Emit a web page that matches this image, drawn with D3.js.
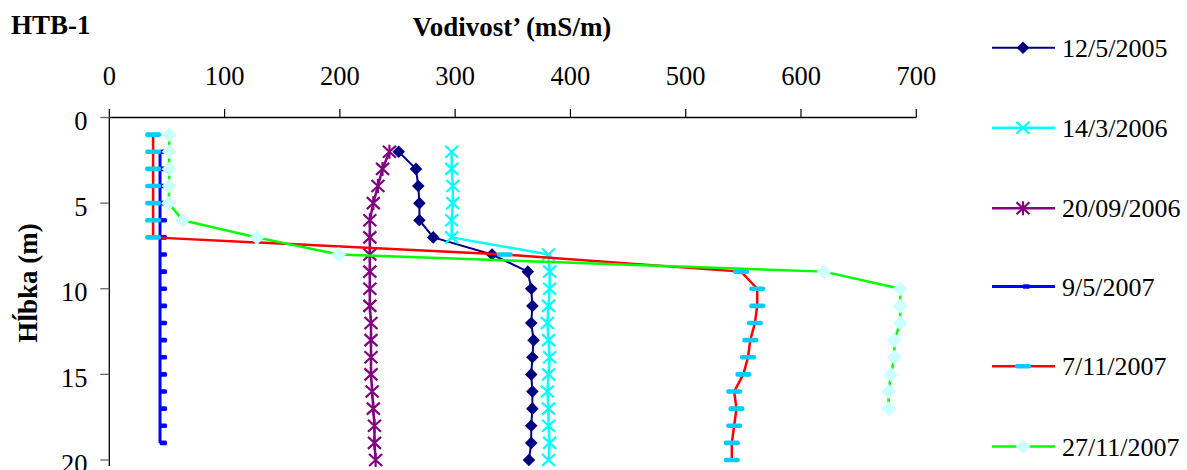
<!DOCTYPE html>
<html>
<head>
<meta charset="utf-8">
<script src="https://cdn.jsdelivr.net/npm/d3@7"></script>
<style>
  html, body { margin: 0; padding: 0; background: #fff; }
  svg { display: block; }
  text { font-family: "Liberation Serif", "Times New Roman", serif; fill: #000; }
</style>
</head>
<body>
<svg id="chart" width="1187" height="470"></svg>
<script>
// ---- data ----
const seriesNames = ["12/5/2005", "14/3/2006", "20/09/2006", "9/5/2007", "7/11/2007", "27/11/2007"];
const xTicks = [0, 100, 200, 300, 400, 500, 600, 700];
const yTicks = [0, 5, 10, 15, 20];

const depth_12_5_2005 = [2,3,4,5,6,7,8,9,10,11,12,13,14,15,16,17,18,19,20];
const vals_12_5_2005  = [251,266,268,269,269,281,332,363,366,367,366,368,367,366,367,367,366,366,364];

const depth_14_3_2006 = [2,3,4,5,6,7,8,9,10,11,12,13,14,15,16,17,18,19,20];
const vals_14_3_2006  = [297,297,298,298,297,297,381,382,382,381,380,381,382,381,380,381,381,382,381];

const depth_20_09_2006 = [2,3,4,5,6,7,8,9,10,11,12,13,14,15,16,17,18,19,20];
const vals_20_09_2006  = [243,237,233,229,226,226,226,226,226,226,227,227,227,227,228,229,230,230,231];

const depth_9_5_2007 = [2,3,4,5,6,7,8,9,10,11,12,13,14,15,16,17,18,19];
const vals_9_5_2007  = [44,44,44,44,44,44,44,44,44,44,44,44,44,44,44,44,44,44];

const depth_7_11_2007 = [1,2,3,4,5,6,7,8,9,10,11,12,13,14,15,16,17,18,19,20];
const vals_7_11_2007  = [38,38,38,38,38,38,38,343,548,562,562,560,556,554,550,542,544,542,540,540];

const depth_27_11_2007 = [1,2,3,4,5,6,7,8,9,10,11,12,13,14,15,16,17];
const vals_27_11_2007  = [52,52,52,52,51.5,63.6,128,199,620,686,686,686,681,681,678,676,676];

// ---- layout ----
const svg = d3.select("#chart");
const x = d3.scaleLinear().domain([0, 700]).range([109.3, 916.3]);
const y = d3.scaleLinear().domain([0, 20]).range([117.5, 460]);

function zip(d, v) { return d.map((dd, i) => ({ depth: dd, val: v[i] })); }

const styles = [
  { color: "#000080", width: 2,   marker: "diamond",  mfill: "#000080", r: 6.3 },
  { color: "#00FFFF", width: 2.5, marker: "x",        mfill: "#00FFFF" },
  { color: "#800080", width: 2.5, marker: "star",     mfill: "#800080" },
  { color: "#0000FF", width: 3,   marker: "dashR",    mfill: "#0000FF" },
  { color: "#FF0000", width: 2.5, marker: "dash",     mfill: "#00CCFF" },
  { color: "#00FF00", width: 2.5, marker: "diamond",  mfill: "#CCFFFF", r: 7.5 }
];

const data = [
  zip(depth_12_5_2005, vals_12_5_2005),
  zip(depth_14_3_2006, vals_14_3_2006),
  zip(depth_20_09_2006, vals_20_09_2006),
  zip(depth_9_5_2007, vals_9_5_2007),
  zip(depth_7_11_2007, vals_7_11_2007),
  zip(depth_27_11_2007, vals_27_11_2007)
];

function drawMarker(g, cx, cy, st) {
  if (st.marker === "diamond") {
    const r = st.r;
    g.append("path")
      .attr("d", `M${cx},${cy - r}L${cx + r},${cy}L${cx},${cy + r}L${cx - r},${cy}Z`)
      .attr("fill", st.mfill);
  } else if (st.marker === "x" || st.marker === "star") {
    const hw = 6.5, hh = 6;
    g.append("path")
      .attr("d", `M${cx - hw},${cy - hh}L${cx + hw},${cy + hh}M${cx - hw},${cy + hh}L${cx + hw},${cy - hh}`)
      .attr("stroke", st.mfill).attr("stroke-width", 2.2).attr("fill", "none");
    if (st.marker === "star") {
      g.append("path")
        .attr("d", `M${cx},${cy - 7}L${cx},${cy + 7}`)
        .attr("stroke", st.mfill).attr("stroke-width", 2.2);
    }
  } else if (st.marker === "dash") {
    g.append("rect")
      .attr("x", cx - 8).attr("y", cy - 2.3).attr("width", 16).attr("height", 4.6)
      .attr("rx", 2).attr("fill", st.mfill);
  } else if (st.marker === "dashR") {
    g.append("rect")
      .attr("x", cx - 0.5).attr("y", cy - 2.3).attr("width", 7.5).attr("height", 4.6)
      .attr("rx", 1.5).attr("fill", st.mfill);
  }
}

// ---- axes ----
const axG = svg.append("g");
// top x axis
axG.append("line").attr("x1", x(0)).attr("x2", x(700)).attr("y1", y(0)).attr("y2", y(0))
  .attr("stroke", "#000").attr("stroke-width", 1.3);
xTicks.forEach(t => {
  axG.append("line").attr("x1", x(t)).attr("x2", x(t)).attr("y1", y(0) - 8.5).attr("y2", y(0))
    .attr("stroke", "#000").attr("stroke-width", 1.2);
  axG.append("text").attr("x", x(t)).attr("y", 85).attr("text-anchor", "middle")
    .attr("font-size", 26.5).text(t);
});
// left y axis
axG.append("line").attr("x1", x(0)).attr("x2", x(0)).attr("y1", y(0)).attr("y2", 466)
  .attr("stroke", "#000").attr("stroke-width", 1.3);
yTicks.forEach(t => {
  axG.append("line").attr("x1", x(0) - 9).attr("x2", x(0)).attr("y1", y(t)).attr("y2", y(t))
    .attr("stroke", "#666").attr("stroke-width", 1.3);
  axG.append("text").attr("x", 87.5).attr("y", y(t) + 12.5).attr("text-anchor", "end")
    .attr("font-size", 26.5).text(t);
});

// titles
svg.append("text").attr("x", 11).attr("y", 33.5).attr("font-size", 27).attr("font-weight", "bold").text("HTB-1");
svg.append("text").attr("x", 512).attr("y", 36).attr("text-anchor", "middle")
  .attr("font-size", 27).attr("font-weight", "bold").text("Vodivost’ (mS/m)");
svg.append("text").attr("transform", "translate(37,283) rotate(-90)").attr("text-anchor", "middle")
  .attr("font-size", 27).attr("font-weight", "bold").text("Hĺbka (m)");

// ---- series ----
const line = d3.line().x(d => x(d.val)).y(d => y(d.depth));
data.forEach((ser, i) => {
  const st = styles[i];
  const g = svg.append("g");
  g.append("path").datum(ser).attr("d", line)
    .attr("fill", "none").attr("stroke", st.color).attr("stroke-width", st.width)
    .attr("stroke-linejoin", "round");
  ser.forEach(d => drawMarker(g, x(d.val), y(d.depth), st));
});

// ---- legend ----
const legY = [47.7, 127.7, 208.3, 286.5, 366.3, 446.5];
seriesNames.forEach((name, i) => {
  const st = styles[i];
  const g = svg.append("g");
  const ly = legY[i];
  g.append("line").attr("x1", 992).attr("x2", 1055).attr("y1", ly).attr("y2", ly)
    .attr("stroke", st.color).attr("stroke-width", st.width);
  drawMarker(g, 1023, ly, st);
  g.append("text").attr("x", 1062).attr("y", ly + 9).attr("font-size", 26).text(name);
});
</script>
</body>
</html>
